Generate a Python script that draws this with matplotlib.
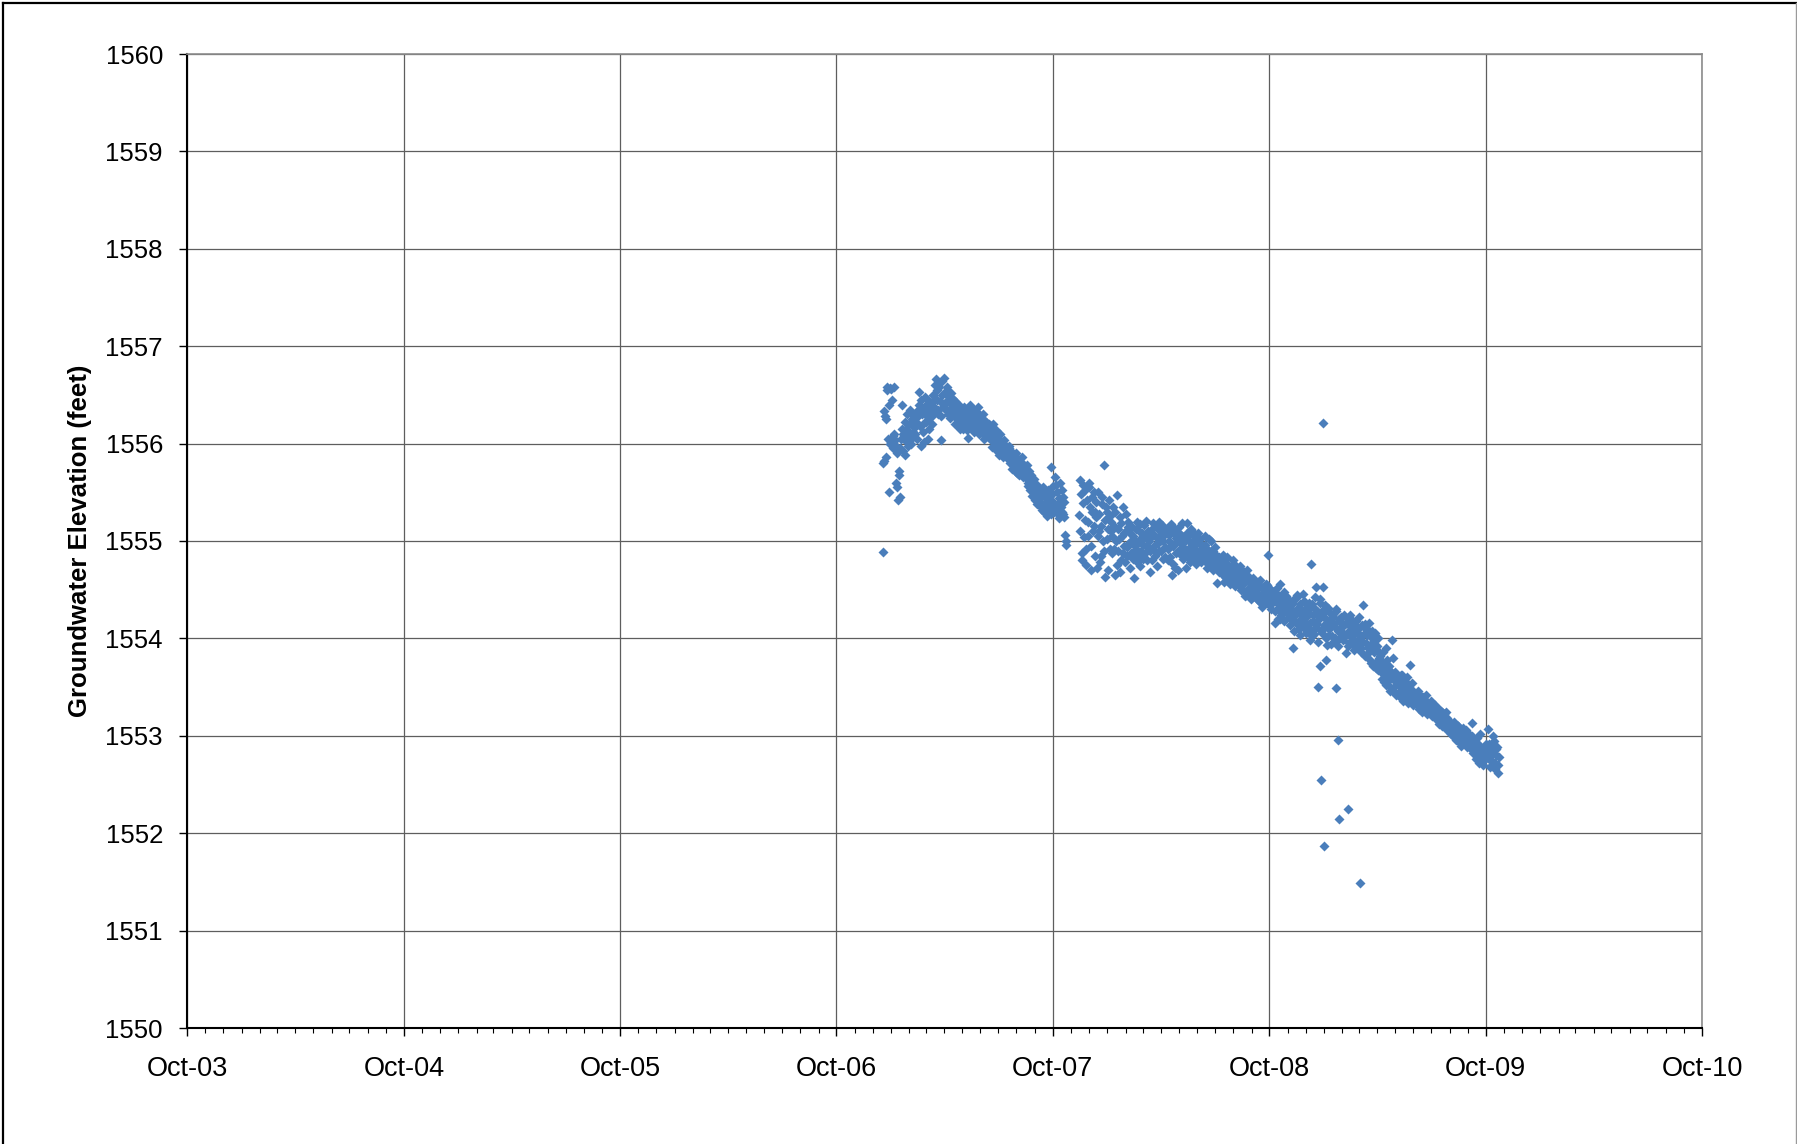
import numpy as np
import pandas as pd
import matplotlib
matplotlib.use("Agg")
from matplotlib import pyplot as plt
import matplotlib.dates as mdates
from matplotlib.lines import Line2D

plt.rcParams['font.family'] = ['Liberation Sans', 'DejaVu Sans']

# transducer record, even-day readings from 2006-12-18
# (each row = 30 days, nan = no reading)
nan = np.nan
elev_a = [
    1554.89, 1555.82, 1556.28, 1555.86, 1556.55, 1555.50, 1556.57, 1556.02, 1556.45, 1556.08, 1556.58, 1555.98, 1555.55, 1555.42, 1555.72,
    1555.95, 1556.40, 1556.10, 1556.05, 1555.88, 1556.15, 1556.02, 1556.20, 1556.10, 1556.00, 1556.25, 1556.12, 1556.30, 1556.18, 1556.05,
    1556.28, 1556.53, 1555.98, 1556.35, 1556.20, 1556.02, 1556.30, 1556.40, 1556.25, 1556.15, 1556.33, 1556.42, 1556.28, 1556.38, 1556.60,
    1556.66, 1556.45, 1556.30, 1556.62, 1556.04, 1556.50, 1556.38, 1556.67, 1556.42, 1556.55, 1556.30, 1556.48, 1556.36, 1556.52, 1556.40,
    1556.35, 1556.20, 1556.42, 1556.28, 1556.18, 1556.38, 1556.25, 1556.32, 1556.15, 1556.30, 1556.22, 1556.36, 1556.06, 1556.28, 1556.40,
    1556.30, 1556.18, 1556.35, 1556.25, 1556.14, 1556.32, 1556.22, 1556.28, 1556.16, 1556.20, 1556.10, 1556.24, 1556.08, 1556.18, 1556.12,
    1556.15, 1556.05, 1556.12, 1556.20, 1556.02, 1556.08, 1555.98, 1556.06, 1555.95, 1556.03, 1555.92, 1556.00, 1555.96, 1555.90, 1555.98,
    1555.94, 1555.88, 1555.95, 1555.85, 1555.90, 1555.82, 1555.86, 1555.78, 1555.84, 1555.80, 1555.74, 1555.82, 1555.76, 1555.70, 1555.78,
    1555.72, 1555.65, 1555.70, 1555.60, 1555.66, 1555.58, 1555.62, 1555.55, 1555.64, 1555.50, 1555.58, 1555.45, 1555.52, 1555.40, 1555.48,
    1555.55, 1555.38, 1555.45, 1555.33, 1555.50, 1555.42, 1555.35, 1555.76, 1555.48, 1555.40, 1555.30, 1555.58, 1555.36, 1555.28, 1555.44,
    1555.60, 1555.30, 1555.45, 1555.25, 1555.06, 1554.96, nan, nan, nan, nan, nan, nan, nan, nan, nan,
    nan, 1555.27, 1555.63, 1554.88, 1555.39, 1555.04, 1555.52, 1554.75, 1555.20, 1555.60, 1555.35, 1554.95, 1555.45, 1555.15, 1555.30,
    1555.25, 1554.72, 1555.50, 1555.10, 1554.85, 1555.38, 1555.00, 1555.78, 1554.63, 1555.30, 1555.12, 1555.42, 1554.92, 1555.20, 1555.05,
    1555.15, 1554.65, 1555.00, 1555.47, 1554.90, 1555.25, 1554.80, 1555.05, 1555.35, 1554.95, 1555.10, 1554.85, 1555.20, 1554.98, 1555.08,
    1554.88, 1555.05, 1554.62, 1554.95, 1555.12, 1554.78, 1555.00, 1555.17, 1554.90, 1555.08, 1554.82, 1555.03, 1555.21, 1554.95, 1555.10,
    1555.02, 1554.68, 1555.12, 1554.92, 1555.06, 1554.85, 1555.15, 1554.98, 1555.19, 1555.05, 1554.90, 1555.10, 1555.00, 1554.84, 1555.08,
    1555.12, 1554.80, 1555.00, 1555.17, 1554.65, 1554.95, 1555.08, 1554.72, 1555.03, 1554.90, 1555.14, 1554.98, 1554.86, 1555.05, 1554.93,
    1555.00, 1554.72, 1555.18, 1554.92, 1555.06, 1554.88, 1555.10, 1554.95, 1554.82, 1555.02, 1554.90, 1555.08, 1554.85, 1554.97, 1554.80,
    1554.95, 1554.85, 1555.05, 1554.78, 1554.92, 1554.88, 1554.74, 1555.00, 1554.82, 1554.90, 1554.76, 1554.86, 1554.57, 1554.80, 1554.84,
    1554.82, 1554.74, 1554.86, 1554.70, 1554.78, 1554.62, 1554.76, 1554.68, 1554.58, 1554.72, 1554.65, 1554.80, 1554.60, 1554.70, 1554.66,
    1554.68, 1554.55, 1554.72, 1554.62, 1554.50, 1554.66, 1554.58, 1554.45, 1554.64, 1554.52, 1554.60, 1554.42, 1554.56, 1554.48, 1554.54,
    1554.50, 1554.40, 1554.58, 1554.45, 1554.36, 1554.52, 1554.42, 1554.48, 1554.38, 1554.55, 1554.86, 1554.44, 1554.34, 1554.50, 1554.40,
    1554.45, 1554.16, 1554.38, 1554.52, 1554.30, 1554.20, 1554.42, 1554.34, 1554.26, 1554.48, 1554.36, 1554.28, 1554.40, 1554.22, 1554.35,
    1554.30, 1553.90, 1554.40, 1554.18, 1554.25, 1554.45, 1554.10, 1554.35, 1554.20, 1554.28, 1554.12, 1554.38, 1554.22, 1554.15, 1554.32,
    1554.25, 1554.10, 1554.35, 1554.18, 1554.05, 1554.30, 1554.53, 1554.15, 1554.22, 1554.40, 1554.08, 1554.28, 1554.53, 1554.12, 1554.20,
    1553.93, 1554.31, 1554.10, 1554.20, 1554.02, 1554.25, 1554.15, 1553.96, 1554.30, 1554.08, 1554.18, 1554.00, 1554.22, 1554.12, 1554.05,
    1554.15, 1553.85, 1554.05, 1554.20, 1553.95, 1554.10, 1554.00, 1554.18, 1553.92, 1554.08, 1554.12, 1553.98, 1554.22, 1554.04, 1553.90,
    1554.34, 1554.05, 1554.15, 1553.95, 1554.10, 1553.85, 1554.02, 1553.75, 1554.08, 1553.90, 1553.98, 1553.70, 1553.88, 1554.00, 1553.80,
    1553.82, 1553.65, 1553.75, 1553.55, 1553.70, 1553.90, 1553.60, 1553.72, 1553.50, 1553.66, 1553.98, 1553.58, 1553.45, 1553.62, 1553.54,
    1553.58, 1553.45, 1553.52, 1553.62, 1553.40, 1553.55, 1553.48, 1553.38, 1553.50, 1553.44, 1553.73, 1553.42, 1553.35, 1553.46, 1553.40,
    1553.42, 1553.34, 1553.46, 1553.30, 1553.38, 1553.28, 1553.40, 1553.32, 1553.36, 1553.26, 1553.33, 1553.30, 1553.24, 1553.34, 1553.28,
    1553.30, 1553.22, 1553.26, 1553.18, 1553.28, 1553.20, 1553.14, 1553.24, 1553.16, 1553.20, 1553.12, 1553.18, 1553.10, 1553.15, 1553.08,
    1553.12, 1553.06, 1553.14, 1553.02, 1553.08, 1553.00, 1553.10, 1552.98, 1553.04, 1552.96, 1553.06, 1552.94, 1553.00, 1553.04, 1552.92,
    1553.00, 1552.92, 1553.13, 1552.88, 1552.96, 1552.84, 1552.94, 1552.80, 1552.90, 1553.02, 1552.78, 1552.86, 1552.74, 1552.88, 1552.82,
    1552.85, 1553.07, 1552.76, 1552.90, 1552.70, 1552.82, 1552.95, 1552.72, 1552.86, 1552.62, 1552.78,
]

# odd-day readings from 2006-12-19, same row layout
elev_b = [
    1555.80, 1556.33, 1556.25, 1556.58, 1556.05, 1556.40, 1556.00, 1556.56, 1555.95, 1556.10, 1556.04, 1555.60, 1555.90, 1555.68, 1555.45,
    1556.05, 1556.15, 1555.92, 1556.22, 1556.08, 1556.30, 1555.98, 1556.12, 1556.35, 1556.06, 1556.18, 1556.28, 1556.10, 1556.22, 1556.35,
    1556.40, 1556.18, 1556.45, 1556.30, 1556.12, 1556.48, 1556.22, 1556.36, 1556.05, 1556.44, 1556.30, 1556.20, 1556.50, 1556.34, 1556.46,
    1556.55, 1556.35, 1556.58, 1556.44, 1556.28, 1556.64, 1556.40, 1556.52, 1556.34, 1556.58, 1556.45, 1556.26, 1556.42, 1556.32, 1556.46,
    1556.28, 1556.44, 1556.32, 1556.22, 1556.40, 1556.15, 1556.34, 1556.26, 1556.38, 1556.20, 1556.30, 1556.14, 1556.33, 1556.24, 1556.18,
    1556.22, 1556.36, 1556.12, 1556.28, 1556.20, 1556.38, 1556.10, 1556.26, 1556.14, 1556.30, 1556.05, 1556.16, 1556.22, 1556.10, 1556.20,
    1556.08, 1556.18, 1555.96, 1556.10, 1556.00, 1556.14, 1555.92, 1556.04, 1555.88, 1556.10, 1555.96, 1555.86, 1556.04, 1555.94, 1555.88,
    1555.84, 1555.98, 1555.80, 1555.92, 1555.74, 1555.88, 1555.72, 1555.90, 1555.70, 1555.84, 1555.68, 1555.76, 1555.86, 1555.66, 1555.74,
    1555.68, 1555.78, 1555.56, 1555.72, 1555.52, 1555.68, 1555.46, 1555.60, 1555.42, 1555.56, 1555.38, 1555.50, 1555.36, 1555.46, 1555.32,
    1555.48, 1555.30, 1555.40, 1555.26, 1555.52, 1555.34, 1555.46, 1555.28, 1555.56, 1555.38, 1555.66, 1555.32, 1555.50, 1555.24, 1555.40,
    1555.35, 1555.52, 1555.28, 1555.40, 1555.00, nan, nan, nan, nan, nan, nan, nan, nan, nan, nan,
    nan, 1555.10, 1555.48, 1554.80, 1555.58, 1555.22, 1554.92, 1555.42, 1555.05, 1555.55, 1554.70, 1555.30, 1555.10, 1555.50, 1554.85,
    1555.40, 1555.05, 1555.28, 1554.78, 1555.15, 1555.45, 1554.90, 1555.22, 1555.35, 1555.02, 1554.70, 1555.26, 1555.10, 1554.88, 1555.35,
    1554.92, 1555.30, 1554.75, 1555.12, 1555.02, 1554.68, 1555.18, 1554.88, 1555.08, 1554.78, 1555.28, 1554.94, 1555.14, 1554.72, 1555.00,
    1555.14, 1554.82, 1555.02, 1554.92, 1555.20, 1554.86, 1555.10, 1554.74, 1555.04, 1554.96, 1555.16, 1554.88, 1555.06, 1554.80, 1555.00,
    1554.90, 1555.08, 1554.80, 1555.18, 1554.96, 1555.04, 1554.74, 1555.12, 1554.90, 1555.00, 1555.16, 1554.82, 1555.06, 1554.94, 1555.12,
    1554.92, 1555.06, 1554.84, 1555.10, 1554.96, 1554.76, 1555.12, 1554.88, 1555.00, 1554.70, 1555.08, 1554.92, 1555.18, 1554.82, 1555.02,
    1554.90, 1555.08, 1554.84, 1555.00, 1554.78, 1555.12, 1554.94, 1554.86, 1555.04, 1554.76, 1554.98, 1554.88, 1555.02, 1554.78, 1554.92,
    1554.88, 1554.80, 1554.96, 1554.72, 1554.86, 1555.02, 1554.78, 1554.90, 1554.70, 1554.84, 1554.94, 1554.74, 1554.82, 1554.68, 1554.78,
    1554.76, 1554.66, 1554.80, 1554.58, 1554.72, 1554.84, 1554.64, 1554.74, 1554.56, 1554.70, 1554.62, 1554.76, 1554.54, 1554.66, 1554.60,
    1554.62, 1554.74, 1554.50, 1554.66, 1554.56, 1554.44, 1554.60, 1554.70, 1554.48, 1554.58, 1554.40, 1554.54, 1554.62, 1554.44, 1554.50,
    1554.46, 1554.56, 1554.38, 1554.60, 1554.44, 1554.32, 1554.50, 1554.40, 1554.56, 1554.36, 1554.46, 1554.52, 1554.30, 1554.42, 1554.48,
    1554.38, 1554.28, 1554.46, 1554.20, 1554.34, 1554.56, 1554.24, 1554.40, 1554.18, 1554.32, 1554.44, 1554.26, 1554.36, 1554.14, 1554.30,
    1554.22, 1554.36, 1554.08, 1554.28, 1554.42, 1554.14, 1554.32, 1554.04, 1554.24, 1554.46, 1554.18, 1554.30, 1554.06, 1554.26, 1554.36,
    1554.16, 1554.32, 1554.02, 1554.24, 1554.42, 1554.12, 1554.28, 1553.96, 1554.20, 1554.36, 1554.06, 1554.26, 1554.14, 1554.34, 1554.00,
    1554.18, 1554.04, 1554.26, 1553.94, 1554.14, 1554.22, 1554.00, 1554.28, 1554.10, 1553.92, 1554.20, 1554.06, 1554.16, 1553.98, 1554.24,
    1554.02, 1554.16, 1553.92, 1554.08, 1554.24, 1553.96, 1554.12, 1553.88, 1554.06, 1554.18, 1553.94, 1554.10, 1554.02, 1553.86, 1554.14,
    1553.96, 1554.12, 1553.82, 1554.04, 1553.90, 1554.16, 1553.78, 1553.94, 1553.72, 1553.86, 1554.06, 1553.76, 1553.92, 1553.68, 1553.84,
    1553.74, 1553.58, 1553.86, 1553.64, 1553.52, 1553.78, 1553.56, 1553.68, 1553.46, 1553.62, 1553.80, 1553.50, 1553.66, 1553.42, 1553.58,
    1553.52, 1553.40, 1553.62, 1553.46, 1553.36, 1553.56, 1553.44, 1553.60, 1553.34, 1553.48, 1553.40, 1553.54, 1553.32, 1553.44, 1553.38,
    1553.36, 1553.44, 1553.28, 1553.40, 1553.32, 1553.24, 1553.38, 1553.30, 1553.42, 1553.22, 1553.34, 1553.26, 1553.36, 1553.20, 1553.30,
    1553.24, 1553.32, 1553.16, 1553.22, 1553.12, 1553.26, 1553.18, 1553.10, 1553.22, 1553.14, 1553.24, 1553.06, 1553.16, 1553.10, 1553.02,
    1553.08, 1553.00, 1553.12, 1552.96, 1553.04, 1553.10, 1552.94, 1553.02, 1552.90, 1553.08, 1552.98, 1552.92, 1553.06, 1552.88, 1552.96,
    1552.94, 1552.86, 1553.00, 1552.82, 1552.92, 1552.76, 1552.98, 1552.84, 1552.72, 1552.90, 1552.80, 1552.70, 1552.84, 1552.76, 1552.92,
    1552.80, 1552.92, 1552.68, 1552.84, 1552.74, 1553.00, 1552.66, 1552.80, 1552.88, 1552.70,
]
dates_a = pd.date_range('2006-12-18', periods=len(elev_a), freq='2D')
dates_b = pd.date_range('2006-12-19', periods=len(elev_b), freq='2D')

# odd readings during the winter 2008-09 disturbance
spike_dates = ['2008-12-08', '2008-12-10', '2008-12-22', '2008-12-26', '2008-12-27',
               '2008-12-30', '2009-01-01', '2009-01-05', '2009-01-22', '2009-01-24',
               '2009-01-26', '2009-02-11', '2009-03-02']
spike_elev = [1553.98, 1554.76, 1553.50, 1553.72, 1552.55,
              1556.21, 1551.87, 1553.78, 1553.49, 1552.96,
              1552.15, 1552.25, 1551.49]

W, H = 1797, 1144
fig = plt.figure(figsize=(W / 100, H / 100), dpi=100)
ax = fig.add_axes([187 / W, (H - 1028) / H, (1702 - 187) / W, (1028 - 54) / H])

blue = '#4A7EBB'
mk = dict(ls='none', marker='D', ms=5.0, mfc=blue, mec='none')
ax.plot(dates_a, elev_a, **mk)
ax.plot(dates_b, elev_b, **mk)
ax.plot(pd.to_datetime(spike_dates), spike_elev, **mk)

ax.set_xlim(pd.Timestamp('2003-10-01'), pd.Timestamp('2010-10-01'))
ax.set_ylim(1550, 1560)
ax.set_yticks(np.arange(1550, 1561, 1))
ax.xaxis.set_major_locator(mdates.MonthLocator(bymonth=10, bymonthday=1))
ax.xaxis.set_minor_locator(mdates.MonthLocator())
ax.xaxis.set_major_formatter(mdates.DateFormatter('%b-%y'))

ax.grid(True, which='major', color='#5e5e5e', lw=0.9)
ax.set_axisbelow(True)
for side in ['left', 'bottom']:
    ax.spines[side].set_color('black')
    ax.spines[side].set_linewidth(1.5)
for side in ['top', 'right']:
    ax.spines[side].set_color('#8c8c8c')
    ax.spines[side].set_linewidth(1.2)

ax.tick_params(axis='y', which='major', direction='out', length=5.8, width=1, pad=11.5, labelsize=18.5)
ax.tick_params(axis='x', which='major', direction='out', length=5.5, width=1, pad=14.5, labelsize=19.5)
ax.tick_params(axis='x', which='minor', direction='out', length=3.6, width=0.8)

ax.set_ylabel('Groundwater Elevation (feet)', fontsize=18.5, fontweight='bold', labelpad=10)

# chart frame
fig.add_artist(Line2D([3 / W, 3 / W], [0, 1 - 3 / H], color='black', lw=1.6, transform=fig.transFigure))
fig.add_artist(Line2D([3 / W, 1796 / W], [1 - 3 / H, 1 - 3 / H], color='black', lw=1.6, transform=fig.transFigure))
fig.add_artist(Line2D([1796 / W, 1796 / W], [0, 1 - 3 / H], color='#9a9a9a', lw=1.0, transform=fig.transFigure))

fig.savefig('out.png', dpi=100)
